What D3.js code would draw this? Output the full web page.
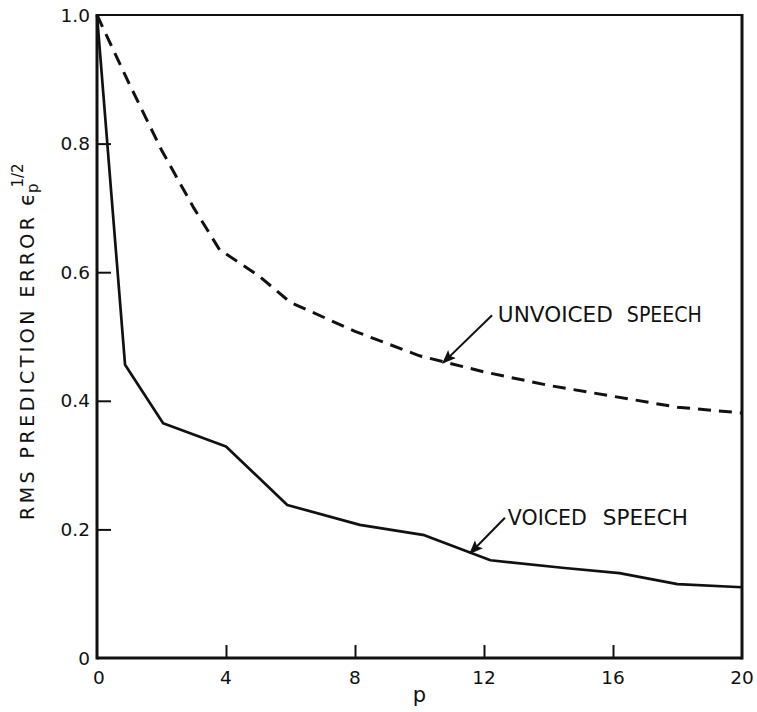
<!DOCTYPE html>
<html>
<head>
<meta charset="utf-8">
<script src="https://cdn.jsdelivr.net/npm/d3@7"></script>
<style>
  html, body { margin: 0; padding: 0; background: #fff; }
  svg { display: block; }
  text { font-family: "DejaVu Sans", "Liberation Sans", Arial, sans-serif; fill: #111; }
</style>
</head>
<body>
<script>
// ---- data ----
const pVoiced   = [0, 0.87, 2.05, 4, 5.9, 8.15, 10.15, 12.2, 14.5, 16.2, 18, 20];
const eVoiced   = [1.0, 0.456, 0.365, 0.329, 0.238, 0.207, 0.191, 0.152, 0.140, 0.132, 0.115, 0.110];
const pUnvoiced = [0, 1, 2, 3, 3.8, 5, 6, 8, 10, 12, 14, 16, 18, 20];
const eUnvoiced = [1.0, 0.893, 0.79, 0.70, 0.635, 0.595, 0.553, 0.508, 0.470, 0.445, 0.424, 0.407, 0.390, 0.381];
const xTicks = [0, 4, 8, 12, 16, 20];
const xTickLabels = ["0", "4", "8", "12", "16", "20"];
const yTicks = [0, 0.2, 0.4, 0.6, 0.8, 1.0];
const yTickLabels = ["0", "0.2", "0.4", "0.6", "0.8", "1.0"];
const seriesNames = ["UNVOICED", "SPEECH", "VOICED", "SPEECH"];
// annotation anchors (data units)
const unvoicedLabel = { p: 12.43, e: 0.5225, arrowFrom: [12.25, 0.533], arrowTo: [10.73, 0.459] };
const voicedLabel   = { p: 12.74, e: 0.207,  arrowFrom: [12.65, 0.218], arrowTo: [11.57, 0.163] };

const W = 757, H = 712;
const svg = d3.select("body").append("svg").attr("width", W).attr("height", H);

const x = d3.scaleLinear().domain([0, 20]).range([97, 742]);
const y = d3.scaleLinear().domain([0, 1]).range([658, 15]);

// frame
const frame = svg.append("g").attr("stroke", "#111").attr("fill", "none");
frame.append("line").attr("x1", x(0)).attr("x2", x(20)).attr("y1", y(1)).attr("y2", y(1)).attr("stroke-width", 2);
frame.append("line").attr("x1", x(0)).attr("x2", x(20)).attr("y1", y(0)).attr("y2", y(0)).attr("stroke-width", 3);
frame.append("line").attr("x1", x(0)).attr("x2", x(0)).attr("y1", y(0) + 1.5).attr("y2", y(1) - 1).attr("stroke-width", 3);
frame.append("line").attr("x1", x(20)).attr("x2", x(20)).attr("y1", y(0) + 1.5).attr("y2", y(1) - 1).attr("stroke-width", 3);

// axes using d3 axis with inward ticks
const xAxis = d3.axisTop(x).tickValues(xTicks.slice(1, -1)).tickSize(13).tickFormat("");
svg.append("g").attr("transform", `translate(0,${y(0)})`).call(xAxis)
  .call(g => { g.select(".domain").remove(); g.selectAll("line").attr("stroke", "#111").attr("stroke-width", 2); });
const yAxis = d3.axisRight(y).tickValues(yTicks.slice(1, -1)).tickSize(14).tickFormat("");
svg.append("g").attr("transform", `translate(${x(0)},0)`).call(yAxis)
  .call(g => { g.select(".domain").remove(); g.selectAll("line").attr("stroke", "#111").attr("stroke-width", 2); });

// tick labels
svg.append("g").selectAll("text").data(xTicks).join("text")
  .attr("x", (d, i) => x(d) + (i === 0 ? 2 : 0))
  .attr("y", 684)
  .attr("text-anchor", "middle")
  .attr("font-size", 18.5)
  .text((d, i) => xTickLabels[i]);
svg.append("g").selectAll("text").data(yTicks).join("text")
  .attr("x", 90)
  .attr("y", d => y(d) + 6.5)
  .attr("text-anchor", "end")
  .attr("font-size", 18.5)
  .text((d, i) => yTickLabels[i]);

// axis titles
svg.append("text").attr("x", x(10)).attr("y", 702).attr("text-anchor", "middle")
  .attr("font-size", 21).text("p");

svg.append("text")
  .attr("transform", "translate(34,520) rotate(-90)")
  .attr("font-size", 19)
  .attr("textLength", 303).attr("lengthAdjust", "spacing")
  .text("RMS PREDICTION ERROR");
const eps = svg.append("text")
  .attr("transform", "translate(34,206) rotate(-90)")
  .attr("font-size", 21);
eps.append("tspan").text("ϵ");
eps.append("tspan").attr("font-size", 15).attr("dy", 4).text("p");
eps.append("tspan").attr("font-size", 15).attr("dy", -15).attr("dx", -4).text("1/2");

// curves
const line = d3.line().x(d => x(d[0])).y(d => y(d[1]));
svg.append("path")
  .datum(pUnvoiced.map((p, i) => [p, eUnvoiced[i]]))
  .attr("d", line).attr("fill", "none").attr("stroke", "#111")
  .attr("stroke-width", 3).attr("stroke-dasharray", "13,8");
svg.append("path")
  .datum(pVoiced.map((p, i) => [p, eVoiced[i]]))
  .attr("d", line).attr("fill", "none").attr("stroke", "#111")
  .attr("stroke-width", 2.7).attr("stroke-linejoin", "round");

// arrow marker
svg.append("defs").append("marker")
  .attr("id", "ah").attr("viewBox", "0 0 10 10").attr("refX", 9).attr("refY", 5)
  .attr("markerWidth", 7).attr("markerHeight", 7).attr("markerUnits", "strokeWidth")
  .attr("orient", "auto")
  .append("path").attr("d", "M0,1 L10,5 L0,9 L2,5 Z").attr("fill", "#111");

function annotate(lab) {
  svg.append("line")
    .attr("x1", x(lab.arrowFrom[0])).attr("y1", y(lab.arrowFrom[1]))
    .attr("x2", x(lab.arrowTo[0])).attr("y2", y(lab.arrowTo[1]))
    .attr("stroke", "#111").attr("stroke-width", 2).attr("marker-end", "url(#ah)");
}
annotate(unvoicedLabel);
annotate(voicedLabel);

// annotation text
svg.append("text").attr("x", x(unvoicedLabel.p)).attr("y", y(unvoicedLabel.e))
  .attr("font-size", 20.5).attr("textLength", 115).attr("lengthAdjust", "spacingAndGlyphs").text(seriesNames[0]);
svg.append("text").attr("x", x(unvoicedLabel.p) + 129).attr("y", y(unvoicedLabel.e))
  .attr("font-size", 20.5).attr("textLength", 75).attr("lengthAdjust", "spacingAndGlyphs").text(seriesNames[1]);
svg.append("text").attr("x", x(voicedLabel.p)).attr("y", y(voicedLabel.e))
  .attr("font-size", 20.5).attr("textLength", 79).attr("lengthAdjust", "spacingAndGlyphs").text(seriesNames[2]);
svg.append("text").attr("x", x(voicedLabel.p) + 95).attr("y", y(voicedLabel.e))
  .attr("font-size", 20.5).attr("textLength", 85).attr("lengthAdjust", "spacingAndGlyphs").text(seriesNames[3]);
</script>
</body>
</html>
